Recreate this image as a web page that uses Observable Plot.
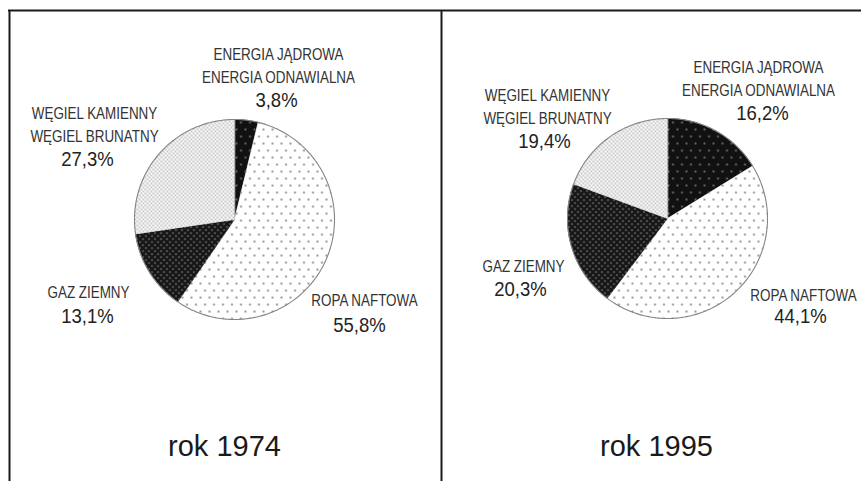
<!DOCTYPE html>
<html><head><meta charset="utf-8">
<script src="https://cdn.jsdelivr.net/npm/d3@7"></script>
<script src="https://cdn.jsdelivr.net/npm/@observablehq/plot@0.6"></script>
<style>
html,body{margin:0;padding:0;background:#fff;overflow:hidden}
#defs{position:absolute;left:0;top:0;width:0;height:0}
#chart svg{display:block}
</style></head><body>
<svg id="defs" width="0" height="0">
<defs>
<pattern id="pat-energia" width="9" height="14" patternUnits="userSpaceOnUse">
<rect width="9" height="14" fill="#111"/>
<circle cx="2" cy="3" r="0.9" fill="#8a8a8a"/><circle cx="6.5" cy="10" r="0.9" fill="#8a8a8a"/>
</pattern>
<pattern id="pat-ropa" width="9" height="14" patternUnits="userSpaceOnUse">
<rect width="9" height="14" fill="#fff"/>
<circle cx="2" cy="3" r="0.85" fill="#333"/><circle cx="6.5" cy="10" r="0.85" fill="#333"/>
</pattern>
<pattern id="pat-gaz" width="6" height="6" patternUnits="userSpaceOnUse">
<rect width="6" height="6" fill="#151515"/>
<circle cx="1.5" cy="1.5" r="0.85" fill="#9a9a9a"/><circle cx="4.5" cy="4.5" r="0.85" fill="#9a9a9a"/>
</pattern>
<pattern id="pat-wegiel" width="4" height="4" patternUnits="userSpaceOnUse">
<rect width="4" height="4" fill="#fff"/>
<circle cx="1" cy="1" r="0.65" fill="#666"/><circle cx="3" cy="3" r="0.65" fill="#666"/>
</pattern>
</defs></svg>
<div id="chart"></div>
<script>
// ---- data ----
const years = ["1974", "1995"];
const keys = ["energia", "ropa", "gaz", "wegiel"];
const categories = ["ENERGIA JĄDROWA\nENERGIA ODNAWIALNA", "ROPA NAFTOWA", "GAZ ZIEMNY", "WĘGIEL KAMIENNY\nWĘGIEL BRUNATNY"];
const values1974 = [3.8, 55.8, 13.1, 27.3];
const values1995 = [16.2, 44.1, 20.3, 19.4];
const yearLabels = ["rok 1974", "rok 1995"];

// ---- layout ----
const W = 861, H = 481;
const series = {"1974": values1974, "1995": values1995};
const pieLayout = {"1974": {cx: 234, cy: 219, r: 100}, "1995": {cx: 667, cy: 218, r: 100}};
const labelLayout = {
  "1974": {energia: {lx: 278, ly: 82, px: 276, py: 106}, ropa: {lx: 364, ly: 305, px: 359, py: 331},
           gaz: {lx: 88, ly: 297, px: 87, py: 322}, wegiel: {lx: 94, ly: 141, px: 87, py: 165}},
  "1995": {energia: {lx: 758, ly: 95, px: 762, py: 119}, ropa: {lx: 803, ly: 300, px: 800, py: 322},
           gaz: {lx: 523, ly: 271, px: 520, py: 295}, wegiel: {lx: 547, ly: 123, px: 544, py: 147}}
};
const titleLayout = {"1974": {x: 224, y: 455}, "1995": {x: 656, y: 455}};

// ---- geometry from values ----
const sliceRows = [];
const outlineRows = [];
years.forEach(yr => {
  const {cx, cy, r} = pieLayout[yr];
  const arcs = d3.pie().sort(null).value(d => d)(series[yr]);
  arcs.forEach((a, i) => {
    const id = yr + "-" + keys[i];
    sliceRows.push({id, key: keys[i], x: cx, y: cy});
    const n = Math.max(2, Math.ceil((a.endAngle - a.startAngle) / 0.01));
    for (let k = 0; k <= n; k++) {
      const t = a.startAngle + (a.endAngle - a.startAngle) * k / n;
      sliceRows.push({id, key: keys[i], x: cx + r * Math.sin(t), y: cy - r * Math.cos(t)});
    }
  });
  for (let k = 0; k <= 360; k++) {
    const t = k * Math.PI / 180;
    outlineRows.push({yr, x: cx + r * Math.sin(t), y: cy - r * Math.cos(t)});
  }
});

const fmt = v => v.toFixed(1).replace(".", ",") + "%";
const labelRows = [], pctRows = [];
years.forEach(yr => {
  keys.forEach((k, i) => {
    const L = labelLayout[yr][k];
    labelRows.push({x: L.lx, y: L.ly, text: categories[i]});
    pctRows.push({x: L.px, y: L.py, text: fmt(series[yr][i])});
  });
});
const titleRows = years.map((yr, i) => ({x: titleLayout[yr].x, y: titleLayout[yr].y, text: yearLabels[i]}));

const sans = "'Liberation Sans',Arial,Helvetica,sans-serif";

const chart = Plot.plot({
  width: W, height: H, margin: 0,
  x: {domain: [0, W], range: [0, W], axis: null},
  y: {domain: [0, H], range: [0, H], axis: null},
  style: {background: "#fff"},
  marks: [
    ...keys.map(k => Plot.line(sliceRows.filter(d => d.key === k), {
      x: "x", y: "y", z: "id", curve: "linear-closed",
      fill: `url(#pat-${k})`, stroke: `url(#pat-${k})`, strokeWidth: 0.6
    })),
    Plot.line(outlineRows, {x: "x", y: "y", z: "yr", stroke: "#858585", strokeWidth: 1.1}),
    Plot.ruleX([9, 441], {y1: 10, y2: H, stroke: "#1a1a1a", strokeWidth: 2}),
    Plot.ruleY([10], {x1: 8, x2: W, stroke: "#1a1a1a", strokeWidth: 2}),
    Plot.text(labelRows, {x: "x", y: "y", text: "text", lineAnchor: "bottom", lineHeight: 1.3,
      fontFamily: sans, fontSize: 17, fill: "#333", textAnchor: "middle"}),
    Plot.text(pctRows, {x: "x", y: "y", text: "text", lineAnchor: "bottom",
      fontFamily: sans, fontSize: 19.5, fill: "#222", textAnchor: "middle"}),
    Plot.text(titleRows, {x: "x", y: "y", text: "text", lineAnchor: "bottom",
      fontFamily: sans, fontSize: 29, fill: "#1a1a1a", textAnchor: "middle", letterSpacing: "-0.6"})
  ]
});
// condense the category labels horizontally (narrow typeface look)
const textGroups = chart.querySelectorAll('g[aria-label="text"]');
textGroups[0].querySelectorAll("text").forEach(t => {
  t.setAttribute("transform", (t.getAttribute("transform") || "") + " scale(0.79,1)");
});
textGroups[1].querySelectorAll("text").forEach(t => {
  t.setAttribute("transform", (t.getAttribute("transform") || "") + " scale(0.95,1)");
});
document.getElementById("chart").appendChild(chart);
</script>
</body></html>
